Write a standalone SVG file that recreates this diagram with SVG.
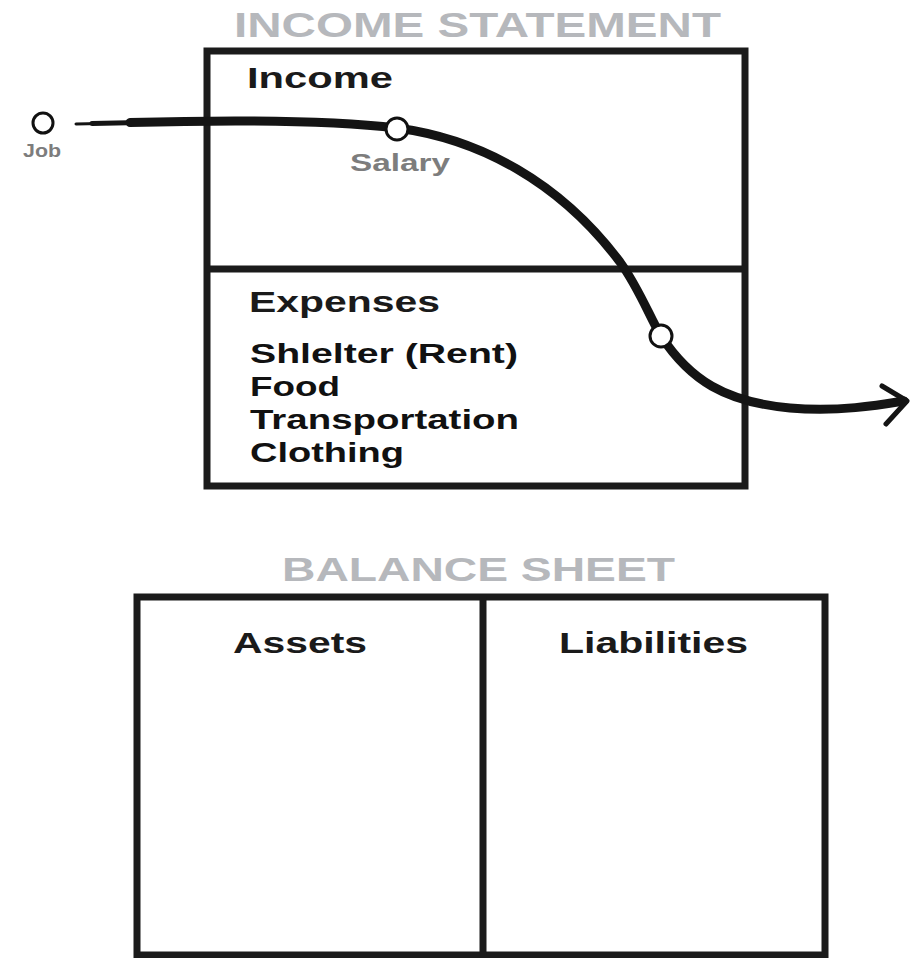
<svg xmlns="http://www.w3.org/2000/svg" width="910" height="958" viewBox="0 0 910 958">
<style>
  .box{fill:none;stroke:#1b1b1b;stroke-width:7}
  .div{stroke:#1b1b1b;stroke-width:7}
  .title{font-family:"Liberation Sans",Arial,sans-serif;font-weight:bold;fill:#b6b8bc}
  .head{font-family:"Liberation Sans",Arial,sans-serif;font-weight:bold;fill:#1a1a1a}
  .item{font-family:"Liberation Sans",Arial,sans-serif;font-weight:bold;fill:#111}
  .lbl{font-family:"Liberation Sans",Arial,sans-serif;font-weight:bold;fill:#7d7d7d}
  .pt{fill:#fff;stroke:#111;stroke-width:3}
  .flow{fill:none;stroke:#141414;stroke-linecap:round;stroke-linejoin:round}
</style>
<rect width="910" height="958" fill="#fff"/>

<text class="title" x="234" y="37" font-size="35" textLength="487" lengthAdjust="spacingAndGlyphs">INCOME STATEMENT</text>

<g id="income-statement">
  <rect class="box" x="207" y="51" width="538" height="435"/>
  <line class="div" x1="207" y1="269" x2="745" y2="269"/>
</g>

<g id="income">
  <text class="head" x="247" y="88" font-size="30" textLength="146" lengthAdjust="spacingAndGlyphs">Income</text>
</g>

<g id="expenses">
  <text class="head" x="249" y="312" font-size="29" textLength="191" lengthAdjust="spacingAndGlyphs">Expenses</text>
  <text class="item" x="250" y="363" font-size="27" textLength="268" lengthAdjust="spacingAndGlyphs">Shlelter (Rent)</text>
  <text class="item" x="250" y="396" font-size="27" textLength="90" lengthAdjust="spacingAndGlyphs">Food</text>
  <text class="item" x="250" y="429" font-size="27" textLength="269" lengthAdjust="spacingAndGlyphs">Transportation</text>
  <text class="item" x="250" y="462" font-size="27" textLength="154" lengthAdjust="spacingAndGlyphs">Clothing</text>
</g>

<g id="connectors">
  <path class="flow" stroke-width="3" d="M76,124 L100,123.5"/>
  <path class="flow" stroke-width="5" d="M92,123.5 L140,122.5"/>
  <path class="flow" stroke-width="9" d="M130,122.5 C220,120 320,119 397,128 C480,139 560,182 620,262 C640,290 650,318 661,336 C690,380 725,402 790,408 C840,412 880,405 904,401"/>
  <path class="flow" stroke-width="5" d="M882,386 L907,401 L886,424"/>
</g>

<g id="job">
  <circle class="pt" cx="43" cy="123" r="10"/>
  <text class="lbl" x="23" y="157" font-size="19" textLength="38" lengthAdjust="spacingAndGlyphs">Job</text>
</g>

<g id="salary">
  <circle class="pt" cx="397" cy="129" r="11"/>
  <text class="lbl" x="350" y="171" font-size="23" textLength="100" lengthAdjust="spacingAndGlyphs">Salary</text>
</g>

<g id="expense-point">
  <circle class="pt" cx="661" cy="336" r="11"/>
</g>

<text class="title" x="282" y="581" font-size="33" textLength="393" lengthAdjust="spacingAndGlyphs">BALANCE SHEET</text>

<g id="balance-sheet">
  <rect class="box" x="137" y="597" width="688" height="358"/>
  <line class="div" x1="483" y1="597" x2="483" y2="955"/>
</g>

<g id="assets">
  <text class="head" x="233" y="653" font-size="30" textLength="134" lengthAdjust="spacingAndGlyphs">Assets</text>
</g>

<g id="liabilities">
  <text class="head" x="559" y="653" font-size="30" textLength="189" lengthAdjust="spacingAndGlyphs">Liabilities</text>
</g>
</svg>
